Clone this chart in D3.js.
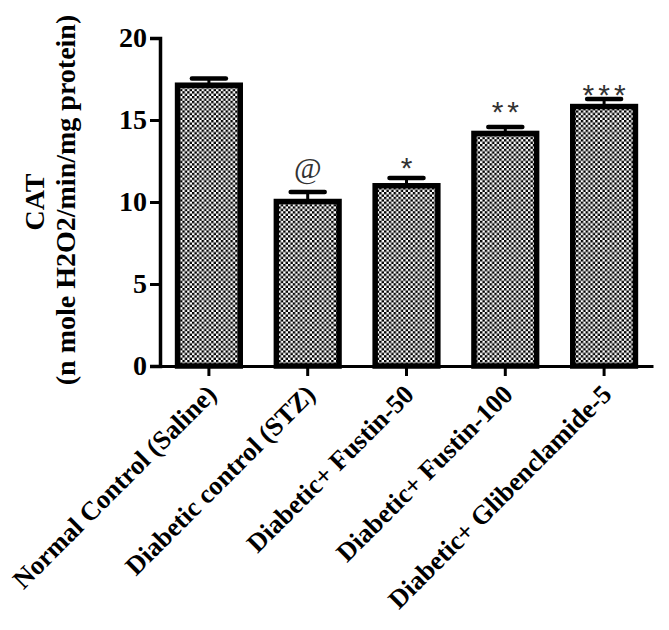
<!DOCTYPE html>
<html>
<head>
<meta charset="utf-8">
<script src="https://cdn.jsdelivr.net/npm/d3@7"></script>
<style>
  body { margin: 0; background: #fff; }
  svg text { font-family: 'Liberation Serif', 'Times New Roman', serif; font-weight: bold; }
</style>
</head>
<body>
<script>
  // chart data
  const groups = [
    'Normal Control (Saline)',
    'Diabetic control (STZ)',
    'Diabetic+ Fustin-50',
    'Diabetic+ Fustin-100',
    'Diabetic+ Glibenclamide-5',
  ];
  const catValues = [17.12, 10.03, 10.99, 14.18, 15.82];
  const catErrors = [0.41, 0.58, 0.48, 0.4, 0.46];
  const marks = ['', '@', '*', '**', '***'];
  const markLevels = [null, 12.13, 12.68, 16.04, 17.13];
  const yTicks = [0, 5, 10, 15, 20];

  const width = 669;
  const height = 630;
  const margin = { top: 38, right: 16, bottom: 264, left: 160 };

  const data = groups.map((g, i) => ({
    group: g,
    value: catValues[i],
    err: catErrors[i],
    mark: marks[i],
    markLevel: markLevels[i],
  }));

  const svg = d3.select('body')
    .append('svg')
    .attr('width', width)
    .attr('height', height);

  // checker fill like the original
  const cell = 2.4;
  const pattern = svg.append('defs')
    .append('pattern')
    .attr('id', 'checker')
    .attr('patternUnits', 'userSpaceOnUse')
    .attr('width', cell * 2)
    .attr('height', cell * 2);
  pattern.append('rect').attr('width', cell * 2).attr('height', cell * 2).attr('fill', '#fff');
  pattern.append('rect').attr('width', cell).attr('height', cell).attr('fill', '#000');
  pattern.append('rect').attr('x', cell).attr('y', cell).attr('width', cell).attr('height', cell).attr('fill', '#000');

  const xScale = d3.scaleBand()
    .domain(groups)
    .range([margin.left, width - margin.right])
    .paddingInner(0.31)
    .paddingOuter(0.15);

  const yScale = d3.scaleLinear()
    .domain([0, 20])
    .range([height - margin.bottom, margin.top]);

  const stroke = 5.5;

  // bars
  svg.append('g')
    .selectAll('rect')
    .data(data)
    .join('rect')
    .attr('x', (d) => xScale(d.group) + stroke / 2)
    .attr('width', xScale.bandwidth() - stroke)
    .attr('y', (d) => yScale(d.value))
    .attr('height', (d) => yScale(0) - yScale(d.value))
    .attr('fill', 'url(#checker)')
    .attr('stroke', '#000')
    .attr('stroke-width', stroke);

  // error bars (upper only)
  const errs = svg.append('g')
    .selectAll('g')
    .data(data)
    .join('g')
    .attr('transform', (d) => `translate(${xScale(d.group) + xScale.bandwidth() / 2},0)`);

  errs.append('line')
    .attr('y1', (d) => yScale(d.value))
    .attr('y2', (d) => yScale(d.value + d.err))
    .attr('stroke', '#000')
    .attr('stroke-width', 3);

  errs.append('line')
    .attr('x1', -17)
    .attr('x2', 17)
    .attr('y1', (d) => yScale(d.value + d.err))
    .attr('y2', (d) => yScale(d.value + d.err))
    .attr('stroke', '#000')
    .attr('stroke-width', 4.5)
    .attr('stroke-linecap', 'round');

  // significance marks
  errs.filter((d) => d.mark)
    .append('text')
    .attr('y', (d) => yScale(d.markLevel))
    .attr('text-anchor', 'middle')
    .attr('dominant-baseline', 'central')
    .style('font-family', (d) => d.mark === '@' ? "'Liberation Serif', serif" : "'Liberation Sans', Arial, sans-serif")
    .style('font-weight', 'normal')
    .style('font-size', '30px')
    .style('letter-spacing', (d) => d.mark === '@' ? '0px' : '4px')
    .attr('dx', (d) => d.mark === '@' ? 0 : 2)
    .attr('dy', (d) => d.mark === '@' ? '0' : '0.3em')
    .attr('fill', '#333')
    .text((d) => d.mark);

  // y axis
  const yAxis = svg.append('g')
    .attr('transform', `translate(${margin.left},0)`)
    .call(d3.axisLeft(yScale).tickValues(yTicks).tickSize(10).tickPadding(3));
  yAxis.select('.domain').attr('stroke-width', 3.5);
  yAxis.selectAll('.tick line').attr('stroke-width', 3);
  yAxis.selectAll('.tick text')
    .style('font-size', '28px')
    .attr('fill', '#000');

  // x axis
  const xAxis = svg.append('g')
    .attr('transform', `translate(0,${yScale(0)})`)
    .call(d3.axisBottom(xScale).tickSize(10).tickSizeOuter(0));
  xAxis.select('.domain').attr('stroke-width', 3);
  xAxis.selectAll('.tick line').attr('stroke-width', 3);
  xAxis.selectAll('.tick text')
    .style('font-size', '26.5px')
    .attr('fill', '#000')
    .attr('text-anchor', 'end')
    .attr('dy', 0)
    .attr('transform', 'translate(9,30) rotate(-45)')
    .attr('x', 0)
    .attr('y', 0);

  // y axis title
  const yMid = (yScale(0) + yScale(20)) / 2;
  svg.append('text')
    .attr('transform', `translate(44,${yMid}) rotate(-90)`)
    .attr('text-anchor', 'middle')
    .style('font-size', '28px')
    .text('CAT');
  svg.append('text')
    .attr('transform', `translate(75,${yMid - 2}) rotate(-90)`)
    .attr('text-anchor', 'middle')
    .style('font-size', '28px')
    .text('(n mole H2O2/min/mg protein)');
</script>
</body>
</html>
